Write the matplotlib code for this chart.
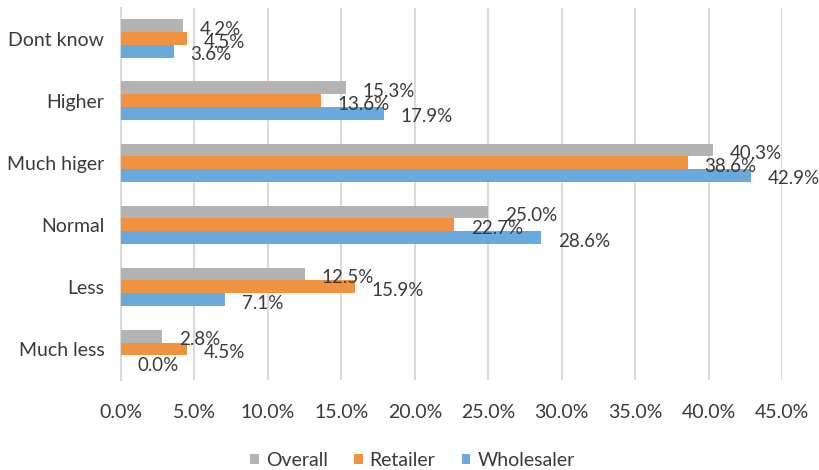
import matplotlib.pyplot as plt
import numpy as np

plt.rcParams['font.family'] = ['Lato', 'DejaVu Sans']

# data, top to bottom as in the chart
categories = ['Dont know', 'Higher', 'Much higer', 'Normal', 'Less', 'Much less']
overall = [4.2, 15.3, 40.3, 25.0, 12.5, 2.8]
retailer = [4.5, 13.6, 38.6, 22.7, 15.9, 4.5]
wholesaler = [3.6, 17.9, 42.9, 28.6, 7.1, 0.0]
xticks = [0, 5, 10, 15, 20, 25, 30, 35, 40, 45]

series = [('Overall', overall, '#B3B3B3'),
          ('Retailer', retailer, '#F19240'),
          ('Wholesaler', wholesaler, '#68A9DE')]

txt = '#3A3A3A'
grid = '#D9D9D9'
fs = 14

fig = plt.figure(figsize=(8.2, 4.7), dpi=100)
ax = fig.add_axes([121/820, 1-380/470, (782-121)/820, (380-7.5)/470])

n = len(categories)
y = np.arange(n)[::-1]  # first category on top
h = 0.206
offsets = [h, 0, -h]

for (name, vals, col), off in zip(series, offsets):
    ax.barh(y + off, vals, height=h, color=col, label=name, zorder=3)
    for yi, v in zip(y, vals):
        ax.annotate('%.1f%%' % v, (v, yi + off), xytext=(12, -2.5),
                    textcoords='offset points', ha='left', va='center',
                    fontsize=13.5, color=txt, zorder=4, annotation_clip=False)

ax.set_xlim(0, 45)
ax.set_ylim(-0.5, n - 0.5)
ax.set_xticks(xticks)
ax.set_xticklabels(['%.1f%%' % t for t in xticks])
ax.set_yticks(y)
ax.set_yticklabels(categories)
ax.tick_params(axis='both', length=0, labelsize=fs, colors=txt)
ax.tick_params(axis='x', pad=17)
ax.tick_params(axis='y', pad=12)

ax.grid(axis='x', color=grid, linewidth=1.5, zorder=0)
for s in ['top', 'right', 'bottom']:
    ax.spines[s].set_visible(False)
ax.spines['left'].set_color(grid)
ax.spines['left'].set_linewidth(1.5)
ax.spines['left'].set_zorder(2)

handles, labels = ax.get_legend_handles_labels()
fig.legend(handles, labels, loc='lower center', bbox_to_anchor=(0.503, -0.035),
           ncol=3, frameon=False, fontsize=fs, handlelength=0.45, handleheight=0.45,
           handletextpad=0.35, columnspacing=1.35, labelcolor=txt)

fig.savefig('out.png', dpi=100)
